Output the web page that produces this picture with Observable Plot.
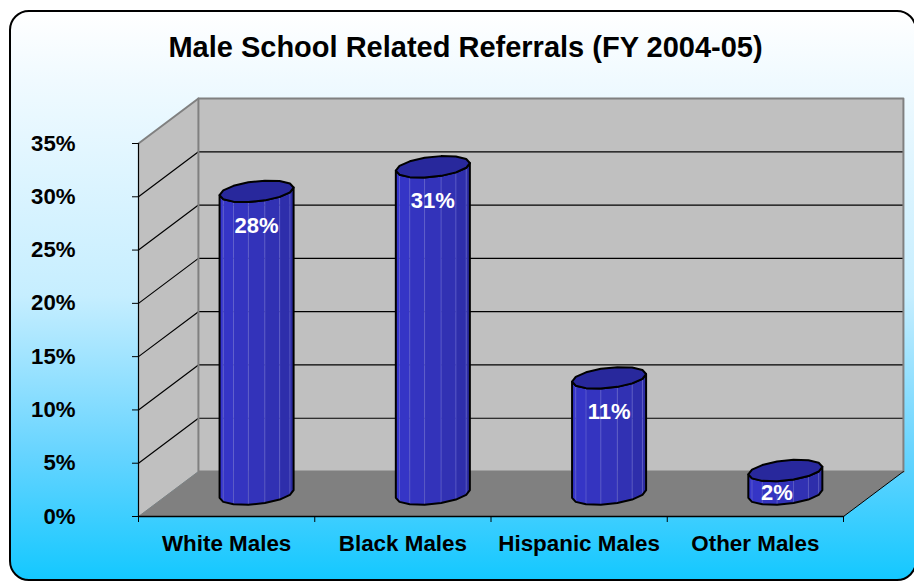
<!DOCTYPE html>
<html>
<head>
<meta charset="utf-8">
<script src="https://cdn.jsdelivr.net/npm/d3@7"></script>
<script src="https://cdn.jsdelivr.net/npm/@observablehq/plot@0.6"></script>
<style>
html,body{margin:0;padding:0;background:#fff;overflow:hidden}
#stage{position:relative;width:914px;height:581px;overflow:hidden;font-family:"Liberation Sans",Arial,sans-serif}
#panel{position:absolute;left:9px;top:10px;width:904px;height:567px;border:2px solid #000;border-radius:20px;
background:linear-gradient(180deg,#ffffff 0%,#f0faff 12%,#c6eeff 50%,#66d4ff 78%,#14c8ff 100%)}
#title{position:absolute;left:0;top:31px;width:931px;text-align:center;font-size:29px;font-weight:bold;color:#000}
#chart{position:absolute;left:0;top:0}
</style>
</head>
<body>
<div id="stage">
  <div id="panel"></div>
  <div id="title">Male School Related Referrals (FY 2004-05)</div>
  <div id="chart"></div>
</div>
<script>
// Data
const categories = ["White Males", "Black Males", "Hispanic Males", "Other Males"];
const values = [28.4, 30.7, 10.9, 2.2];
const yTicks = [0, 5, 10, 15, 20, 25, 30, 35];

// Oblique projection: depth d (0 front, 1 back) shifts a point in data units
const depthX = 0.34, depthY = 4.22;
const pt = (c, v, d = 0) => ({x: c + depthX * d, y: v + depthY * d});
const poly = (pts, o) => Plot.line(pts, {x: "x", y: "y", curve: "linear-closed", ...o});
const path = (pts, o) => Plot.line(pts, {x: "x", y: "y", ...o});

const marks = [];
// walls and floor
marks.push(poly([pt(0,0,1), pt(4,0,1), pt(4,35,1), pt(0,35,1)], {fill: "#c0c0c0", stroke: "none"}));
marks.push(poly([pt(0,0,0), pt(0,0,1), pt(0,35,1), pt(0,35,0)], {fill: "#c0c0c0", stroke: "none"}));
marks.push(poly([pt(0,0,0), pt(4,0,0), pt(4,0,1), pt(0,0,1)], {fill: "#808080", stroke: "none"}));
// grid
for (const t of yTicks.filter(t => t > 0 && t < 35)) {
  marks.push(path([pt(0,t,0), pt(0,t,1), pt(4,t,1)], {stroke: "#000", strokeWidth: 1.2}));
}
// wall outlines
marks.push(path([pt(0,35,0), pt(0,35,1), pt(4,35,1), pt(4,0,1)], {stroke: "#808080", strokeWidth: 2}));
marks.push(path([pt(0,35,1), pt(0,0,1), pt(4,0,1)], {stroke: "#808080", strokeWidth: 2}));
marks.push(path([pt(0,0,0), pt(0,0,1)], {stroke: "#808080", strokeWidth: 1}));
marks.push(path([pt(4,0,0), pt(4,0,1)], {stroke: "#000", strokeWidth: 1}));

// cylinders: footprint is a 14-sided ring on the floor plane
const sides = 14;
const ring = d3.range(sides + 1).map(i => {
  const a = Math.PI + (2 * Math.PI * i) / sides;
  const dv = 0.085 * Math.cos(a) + 0.225 * Math.sin(a);        // depth offset
  const du = 0.21 * Math.cos(a) - depthX * dv;                 // category offset
  return {du, dv};
});
const at = (i, v, p) => pt(i + 0.5 + p.du, v, 0.5 + p.dv);
const shade = d3.scaleLinear().domain([0, 0.5, 1]).range(["#3636cc", "#3333ba", "#2c2ca4"]);
values.forEach((v, i) => {
  const front = ring.slice(0, sides / 2 + 1);
  const back = ring.slice(sides / 2);
  for (let k = 0; k < front.length - 1; k++) {
    marks.push(poly([at(i,0,front[k]), at(i,0,front[k+1]), at(i,v,front[k+1]), at(i,v,front[k])],
      {fill: shade(k / (front.length - 2)), stroke: "none"}));
    if (k > 0) marks.push(path([at(i,0,front[k]), at(i,v,front[k])], {stroke: "#6464d0", strokeWidth: 0.7}));
  }
  // silhouette of body
  const outline = [...front.map(p => at(i,0,p)), ...front.slice().reverse().map(p => at(i,v,p))];
  marks.push(poly(outline, {fill: "none", stroke: "#000", strokeWidth: 2}));
  // top cap
  marks.push(poly([...front, ...back.slice(1, -1)].map(p => at(i,v,p)), {fill: "#28289c", stroke: "#000", strokeWidth: 2}));
});

// value labels, kept inside the bar
const labelRows = values.map((v, i) => v > 5
  ? {...pt(i + 0.5, v - 3.2, 0.5), text: Math.round(v) + "%"}
  : {...pt(i + 0.5, 0.73, 0.36), text: Math.round(v) + "%"});
marks.push(Plot.text(labelRows, {x: "x", y: "y", text: "text", fill: "#fff", fontSize: 22, fontWeight: "bold"}));

// axes
marks.push(path([pt(0,0), pt(0,35)], {stroke: "#000", strokeWidth: 1.2}));
marks.push(path([pt(0,0), pt(4,0)], {stroke: "#000", strokeWidth: 1.5}));
marks.push(Plot.axisY({ticks: yTicks, tickSize: 6, tickPadding: 57, tickFormat: d => d + "%", label: null,
  fontSize: 22.2, fontWeight: "bold", stroke: "#000", fill: "#000"}));
marks.push(Plot.axisX({ticks: [0,1,2,3,4], tickSize: 6, tickFormat: () => "", label: null, stroke: "#000"}));
marks.push(Plot.axisX({ticks: categories.map((c, i) => i + 0.5), tickSize: 0, tickPadding: 19,
  tickFormat: t => categories[Math.floor(t)], label: null, fontSize: 22.4, fontWeight: "bold", fill: "#000"}));

const chart = Plot.plot({
  width: 914, height: 581,
  marginLeft: 138, marginRight: 71, marginTop: 143, marginBottom: 65,
  x: {domain: [0, 4]},
  y: {domain: [0, 35]},
  style: {background: "transparent", overflow: "visible", fontFamily: '"Liberation Sans",Arial,sans-serif'},
  marks
});
document.getElementById("chart").appendChild(chart);
</script>
</body>
</html>
